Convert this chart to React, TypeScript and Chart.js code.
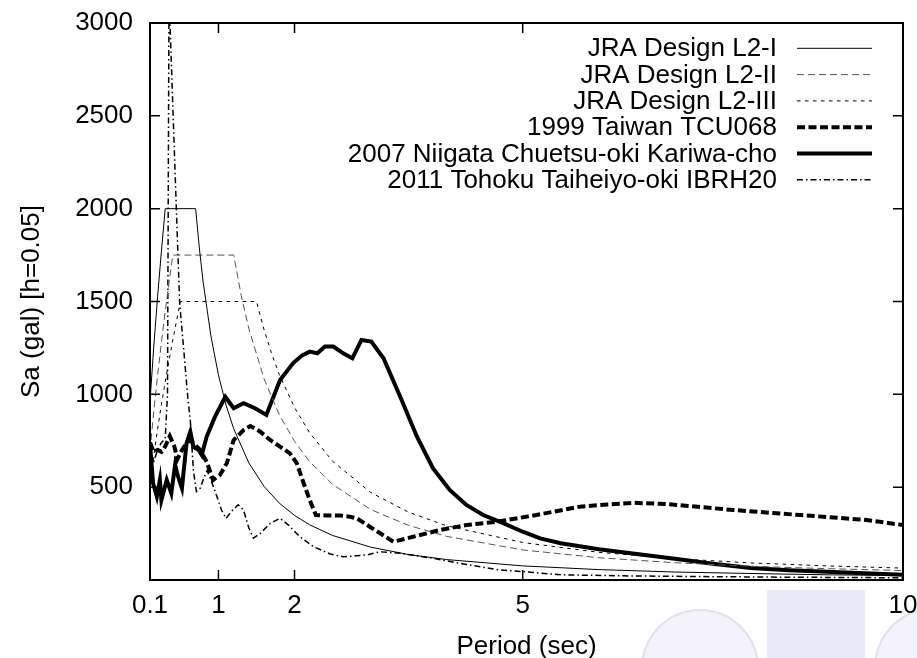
import React, { useEffect, useRef } from 'react';
import { Chart, registerables } from 'chart.js';

Chart.register(...registerables);

const FONT = '"Liberation Sans", Arial, Helvetica, sans-serif';

// Axis ticks
const X_TICKS = [0.1, 1, 2, 5, 10];
const Y_TICKS = [500, 1000, 1500, 2000, 2500, 3000];

// Series labels
const LABELS = [
  'JRA Design L2-I',
  'JRA Design L2-II',
  'JRA Design L2-III',
  '1999 Taiwan TCU068',
  '2007 Niigata Chuetsu-oki Kariwa-cho',
  '2011 Tohoku Taiheiyo-oki IBRH20',
];

// JRA Design L2-I
const L2I_T = [0.1, 0.15, 0.2, 0.25, 0.3, 0.7, 0.75, 0.8, 0.9, 1.0, 1.1, 1.2, 1.4, 1.6, 1.8, 2.0, 2.2, 2.5, 3.0, 3.5, 4.0, 5.0, 6.0, 7.0, 8.0, 9.0, 10.0];
const L2I_SA = [961, 1260, 1526, 1771, 2000, 2000, 1783, 1601, 1316, 1104, 942, 815, 630, 504, 414, 348, 297, 240, 177, 137, 110, 76, 56, 43, 35, 28, 24];

// JRA Design L2-II
const L2II_T = [0.1, 0.15, 0.2, 0.25, 0.3, 0.35, 0.4, 1.2, 1.3, 1.4, 1.6, 1.8, 2.0, 2.2, 2.5, 3.0, 3.5, 4.0, 5.0, 6.0, 7.0, 8.0, 9.0, 10.0];
const L2II_SA = [694, 910, 1103, 1280, 1445, 1601, 1750, 1750, 1531, 1353, 1083, 890, 747, 637, 515, 380, 294, 235, 162, 120, 93, 74, 61, 51];

// JRA Design L2-III
const L2III_T = [0.1, 0.15, 0.2, 0.25, 0.3, 0.35, 0.4, 0.45, 0.5, 1.5, 1.6, 1.7, 1.8, 2.0, 2.2, 2.5, 3.0, 3.5, 4.0, 5.0, 6.0, 7.0, 8.0, 9.0, 10.0];
const L2III_SA = [513, 672, 814, 945, 1067, 1182, 1293, 1398, 1500, 1500, 1347, 1218, 1107, 929, 792, 640, 472, 365, 292, 202, 149, 115, 92, 76, 64];

// 1999 Taiwan TCU068
const TW_T = [0.1, 0.15, 0.2, 0.25, 0.3, 0.36, 0.42, 0.46, 0.52, 0.6, 0.65, 0.76, 0.845, 0.93, 1.02, 1.11, 1.2, 1.33, 1.42, 1.55, 1.68, 1.81, 1.94, 2.03, 2.12, 2.2, 2.28, 2.42, 2.6, 2.73, 2.82, 2.99, 3.3, 3.56, 3.91, 4.26, 4.66, 5.18, 5.75, 6.02, 6.45, 6.89, 7.77, 8.65, 9.52, 10.0];
const TW_SA = [740, 690, 700, 690, 720, 775, 720, 650, 700, 750, 745, 700, 637, 539, 566, 629, 754, 808, 829, 799, 754, 718, 682, 629, 521, 431, 350, 348, 347, 341, 332, 287, 206, 233, 269, 296, 314, 350, 395, 404, 416, 409, 377, 350, 323, 296];

// 2007 Niigata Chuetsu-oki Kariwa-cho
const NG_T = [0.1, 0.14, 0.19, 0.23, 0.25, 0.32, 0.38, 0.43, 0.47, 0.52, 0.58, 0.63, 0.67, 0.74, 0.78, 0.845, 0.955, 1.09, 1.2, 1.33, 1.48, 1.63, 1.81, 1.98, 2.1, 2.2, 2.3, 2.4, 2.51, 2.64, 2.76, 2.88, 3.01, 3.17, 3.39, 3.61, 3.82, 4.04, 4.26, 4.48, 4.72, 5.0, 5.23, 5.5, 6.0, 6.5, 7.0, 7.5, 8.0, 8.5, 9.0, 9.5, 10.0];
const NG_SA = [736, 521, 449, 539, 431, 539, 467, 619, 556, 494, 736, 799, 718, 700, 673, 772, 880, 987, 925, 952, 925, 889, 1077, 1167, 1210, 1230, 1221, 1257, 1257, 1221, 1194, 1293, 1284, 1194, 987, 772, 602, 485, 404, 350, 310, 260, 224, 198, 166, 140, 115, 88, 65, 53, 44, 36, 28];

// 2011 Tohoku Taiheiyo-oki IBRH20
const TH_T = [0.1, 0.15, 0.2, 0.25, 0.3, 0.33, 0.35, 0.45, 0.47, 0.49, 0.54, 0.6, 0.63, 0.67, 0.71, 0.76, 0.8, 0.85, 0.9, 0.98, 1.04, 1.1, 1.17, 1.26, 1.33, 1.4, 1.46, 1.55, 1.68, 1.81, 1.92, 2.07, 2.25, 2.47, 2.64, 2.8, 2.95, 3.12, 3.39, 3.82, 4.24, 4.7, 5.0, 5.5, 6.4, 7.5, 8.5, 10.0];
const TH_SA = [690, 640, 700, 740, 760, 1000, 3150, 1955, 1723, 1492, 1257, 969, 860, 592, 476, 494, 540, 590, 540, 450, 377, 332, 370, 405, 377, 280, 225, 251, 305, 332, 296, 233, 179, 140, 125, 130, 135, 152, 144, 117, 85, 54, 45, 28, 22, 18, 15, 12];

const SERIES_T = [L2I_T, L2II_T, L2III_T, TW_T, NG_T, TH_T];
const SERIES_SA = [L2I_SA, L2II_SA, L2III_SA, TW_SA, NG_SA, TH_SA];

// Styles
const STYLES = [
  { color: '#000000', width: 1, dash: [] as number[] },
  { color: '#555555', width: 1, dash: [7, 4] },
  { color: '#000000', width: 1, dash: [3.5, 4.5] },
  { color: '#000000', width: 4, dash: [8, 3.5] },
  { color: '#000000', width: 4, dash: [] as number[] },
  { color: '#000000', width: 1.5, dash: [6, 3, 1.5, 3] },
];

const framePlugin = {
  id: 'gnuFrame',
  beforeDraw(chart: any) {
    const { ctx } = chart;
    ctx.save();
    ctx.fillStyle = '#ffffff';
    ctx.fillRect(0, 0, chart.width, chart.height);
    // faint watermark logos
    ctx.fillStyle = 'rgba(215,215,235,0.3)';
    ctx.strokeStyle = 'rgba(200,200,228,0.5)';
    ctx.lineWidth = 2;
    ctx.beginPath();
    ctx.arc(700, 668, 58, 0, Math.PI * 2);
    ctx.fill();
    ctx.stroke();
    ctx.fillStyle = 'rgba(200,200,235,0.4)';
    ctx.fillRect(767, 590, 98, 68);
    ctx.fillStyle = 'rgba(215,215,235,0.3)';
    ctx.beginPath();
    ctx.arc(935, 668, 60, 0, Math.PI * 2);
    ctx.fill();
    ctx.stroke();
    ctx.restore();
  },
  afterDatasetsDraw(chart: any) {
    const { ctx, chartArea: a, scales } = chart;
    const xs = scales.x;
    const ys = scales.y;
    ctx.save();
    ctx.setLineDash([]);
    ctx.strokeStyle = '#000';
    ctx.lineWidth = 1.5;
    const tl = 10;
    ctx.beginPath();
    X_TICKS.forEach((v) => {
      const px = xs.getPixelForValue(v);
      ctx.moveTo(px, a.bottom);
      ctx.lineTo(px, a.bottom - tl);
      ctx.moveTo(px, a.top);
      ctx.lineTo(px, a.top + tl);
    });
    Y_TICKS.forEach((v) => {
      const py = ys.getPixelForValue(v);
      ctx.moveTo(a.left, py);
      ctx.lineTo(a.left + tl, py);
      ctx.moveTo(a.right, py);
      ctx.lineTo(a.right - tl, py);
    });
    ctx.stroke();
    ctx.lineWidth = 2;
    ctx.strokeRect(a.left, a.top, a.right - a.left, a.bottom - a.top);

    // gnuplot-style legend (key)
    ctx.font = `26px ${FONT}`;
    ctx.textAlign = 'right';
    ctx.textBaseline = 'middle';
    ctx.fillStyle = '#000';
    chart.data.datasets.forEach((ds: any, i: number) => {
      const y = a.top + 25.3 + i * 26.3;
      ctx.fillText(ds.label, a.right - 126, y + 1);
      ctx.beginPath();
      ctx.setLineDash(ds.borderDash || []);
      ctx.lineWidth = ds.borderWidth;
      ctx.strokeStyle = ds.borderColor;
      ctx.moveTo(a.right - 106, y);
      ctx.lineTo(a.right - 31, y);
      ctx.stroke();
    });
    ctx.restore();
  },
};

export default function App() {
  const ref = useRef<HTMLCanvasElement>(null);
  useEffect(() => {
    const datasets = LABELS.map((label, i) => ({
      label,
      data: SERIES_T[i].map((t, j) => ({ x: t, y: SERIES_SA[i][j] })),
      borderColor: STYLES[i].color,
      backgroundColor: STYLES[i].color,
      borderWidth: STYLES[i].width,
      borderDash: STYLES[i].dash,
      pointRadius: 0,
      tension: 0,
      fill: false,
    }));
    const chart = new Chart(ref.current as HTMLCanvasElement, {
      type: 'line',
      data: { datasets },
      plugins: [framePlugin],
      options: {
        animation: false,
        responsive: false,
        devicePixelRatio: 1,
        layout: { padding: { left: 0, top: 23, right: 14, bottom: 0 } },
        plugins: { legend: { display: false }, tooltip: { enabled: false } },
        scales: {
          x: {
            type: 'linear',
            min: 0.1,
            max: 10,
            grid: { display: false, drawTicks: false, tickLength: 0 },
            border: { display: false },
            afterBuildTicks: (s: any) => {
              s.ticks = X_TICKS.map((v) => ({ value: v }));
            },
            afterFit: (s: any) => {
              s.height = 78;
              s.paddingLeft = 0;
              s.paddingRight = 0;
            },
            ticks: {
              autoSkip: false,
              maxRotation: 0,
              padding: 10,
              color: '#000',
              font: { family: FONT, size: 26 },
              callback: (v: any) => String(v),
            },
            title: {
              display: true,
              text: 'Period (sec)',
              color: '#000',
              font: { family: FONT, size: 26 },
              padding: { top: 0, bottom: -4 },
            },
          },
          y: {
            type: 'linear',
            min: 0,
            max: 3000,
            grid: { display: false, drawTicks: false, tickLength: 0 },
            border: { display: false },
            afterBuildTicks: (s: any) => {
              s.ticks = Y_TICKS.map((v) => ({ value: v }));
            },
            afterFit: (s: any) => {
              s.width = 150;
              s.paddingTop = 0;
              s.paddingBottom = 0;
            },
            ticks: {
              autoSkip: false,
              padding: 17,
              color: '#000',
              font: { family: FONT, size: 26 },
              callback: (v: any) => String(v),
            },
            title: {
              display: true,
              text: 'Sa (gal) [h=0.05]',
              color: '#000',
              font: { family: FONT, size: 26 },
              padding: { top: 16, bottom: 0 },
            },
          },
        },
      } as any,
    });
    return () => chart.destroy();
  }, []);
  return (
    <div style={{ position: 'absolute', left: 0, top: 0, width: 917, height: 658, background: '#fff' }}>
      <canvas ref={ref} width={917} height={658} style={{ display: 'block', width: 917, height: 658 }} />
    </div>
  );
}
